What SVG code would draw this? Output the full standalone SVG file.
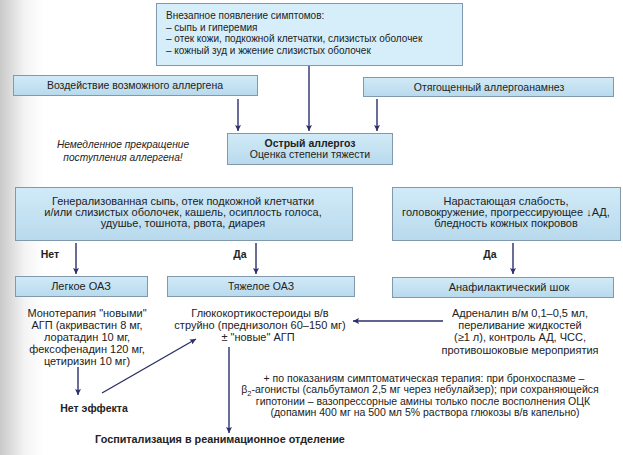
<svg xmlns="http://www.w3.org/2000/svg" width="623" height="455" viewBox="0 0 623 455">
<defs>
<linearGradient id="bg" x1="0" y1="0" x2="1" y2="0">
<stop offset="0" stop-color="#c9c9c9"/>
<stop offset="0.04" stop-color="#f4f4f4"/>
<stop offset="0.07" stop-color="#ffffff"/>
</linearGradient>
<linearGradient id="boxfill" x1="0" y1="0" x2="0" y2="1">
<stop offset="0" stop-color="#d1eaf7"/>
<stop offset="1" stop-color="#b8daed"/>
</linearGradient>
<marker id="ah2" viewBox="0 0 10 10" refX="10" refY="5" markerWidth="10" markerHeight="6" orient="auto" markerUnits="userSpaceOnUse">
<path d="M0,0 L10,5 L0,10 L2,5 Z" fill="#2b2f6b"/>
</marker>
</defs>
<style>
.box{fill:url(#boxfill);stroke:#8299ad;stroke-width:1}
.t{font-family:"Liberation Sans",Arial,sans-serif;font-size:10.5px;fill:#222}
.s10{font-size:10px}
.s11{font-size:11px}
.c{text-anchor:middle}
.b{font-weight:bold}
.i{font-style:italic;font-size:10.2px}
.con{stroke:#2b2f6b;stroke-width:1.4;fill:none}
.arr{marker-end:url(#ah2)}
</style>
<rect x="0" y="0" width="623" height="455" fill="url(#bg)"/>

<g id="n-top">
<rect class="box" x="156.5" y="3.5" width="306" height="62" style="fill:#d6eef9"/>
<text class="t s10" x="166" y="19">Внезапное появление симптомов:</text>
<text class="t s10" x="166" y="30.5">– сыпь и гиперемия</text>
<text class="t s10" x="166" y="42">– отек кожи, подкожной клетчатки, слизистых оболочек</text>
<text class="t s10" x="166" y="53.5">– кожный зуд и жжение слизистых оболочек</text>
</g>

<g id="n-allergen">
<rect class="box" x="13.5" y="75.5" width="244" height="20"/>
<text class="t c" x="135" y="89">Воздействие возможного аллергена</text>
</g>

<g id="n-anamnesis">
<rect class="box" x="363.5" y="77.5" width="250" height="19"/>
<text class="t c" x="489" y="90.5">Отягощенный аллергоанамнез</text>
</g>

<g id="n-stop">
<text class="t c i" x="123" y="147.5">Немедленное прекращение</text>
<text class="t c i" x="123" y="160.5">поступления аллергена!</text>
</g>

<g id="n-acute">
<rect class="box" x="227.5" y="133.5" width="165" height="31"/>
<text class="t c b" x="310" y="146.5">Острый аллергоз</text>
<text class="t c" x="310" y="158">Оценка степени тяжести</text>
</g>

<g id="n-general">
<rect class="box" x="15.5" y="187.5" width="337" height="53"/>
<text class="t c s11" x="183" y="204.5">Генерализованная сыпь, отек подкожной клетчатки</text>
<text class="t c s11" x="183" y="215.5">и/или слизистых оболочек, кашель, осиплость голоса,</text>
<text class="t c s11" x="183" y="226.5">удушье, тошнота, рвота, диарея</text>
</g>

<g id="n-weak">
<rect class="box" x="392.5" y="187.5" width="228" height="53"/>
<text class="t c s11" x="506" y="204.5">Нарастающая слабость,</text>
<text class="t c s11" x="506" y="215.5">головокружение, прогрессирующее ↓АД,</text>
<text class="t c s11" x="506" y="226.5">бледность кожных покровов</text>
</g>

<g id="n-mild">
<rect class="box" x="15.5" y="276.5" width="132" height="20"/>
<text class="t c s11" x="81" y="290">Легкое ОАЗ</text>
</g>

<g id="n-severe">
<rect class="box" x="167.5" y="276.5" width="187" height="20"/>
<text class="t c" x="261" y="290">Тяжелое ОАЗ</text>
</g>

<g id="n-shock">
<rect class="box" x="392.5" y="277.5" width="221" height="20"/>
<text class="t c s11" x="509" y="291">Анафилактический шок</text>
</g>

<g id="n-mono">
<text class="t c s11" x="87" y="317">Монотерапия "новыми"</text>
<text class="t c s11" x="87" y="329">АГП (акривастин 8 мг,</text>
<text class="t c s11" x="87" y="341">лоратадин 10 мг,</text>
<text class="t c s11" x="87" y="352.5">фексофенадин 120 мг,</text>
<text class="t c s11" x="87" y="364.5">цетиризин 10 мг)</text>
</g>

<g id="n-gcs">
<text class="t c s11" x="260" y="317">Глюкокортикостероиды в/в</text>
<text class="t c s11" x="260" y="329">струйно (преднизолон 60–150 мг)</text>
<text class="t c s11" x="258" y="341">± "новые" АГП</text>
</g>

<g id="n-adrenalin">
<text class="t c s11" x="520" y="317">Адреналин в/м 0,1–0,5 мл,</text>
<text class="t c s11" x="520" y="329">переливание жидкостей</text>
<text class="t c s11" x="520" y="341">(≥1 л), контроль АД, ЧСС,</text>
<text class="t c s11" x="520" y="353.5">противошоковые мероприятия</text>
</g>

<g id="n-sympt">
<text class="t c" x="424" y="381.5">+ по показаниям симптоматическая терапия: при бронхоспазме –</text>
<text class="t c" x="420" y="393">β<tspan font-size="7.5" dy="2.5">2</tspan><tspan dy="-2.5">-агонисты (сальбутамол 2,5 мг через небулайзер); при сохраняющейся</tspan></text>
<text class="t c" x="423" y="404.5">гипотонии – вазопрессорные амины только после восполнения ОЦК</text>
<text class="t c" x="425" y="416">(допамин 400 мг на 500 мл 5% раствора глюкозы в/в капельно)</text>
</g>

<g id="n-noeffect">
<text class="t c b" x="94" y="412">Нет эффекта</text>
</g>

<g id="n-hosp">
<text class="t c b" x="220" y="443" style="font-size:10.8px">Госпитализация в реанимационное отделение</text>
</g>

<g id="labels">
<text class="t c b" x="50" y="258">Нет</text>
<text class="t c b" x="240" y="258">Да</text>
<text class="t c b" x="490" y="258">Да</text>
</g>

<g id="connectors">
<line class="con arr" x1="309" y1="66" x2="309" y2="131"/>
<line class="con arr" x1="238" y1="99" x2="238" y2="131"/>
<line class="con arr" x1="377" y1="99" x2="377" y2="131"/>
<line class="con arr" x1="76" y1="243" x2="76" y2="274"/>
<line class="con arr" x1="256" y1="243" x2="256" y2="274"/>
<line class="con arr" x1="513" y1="243" x2="513" y2="274"/>
<line class="con arr" x1="443" y1="321" x2="353" y2="321"/>
<line class="con arr" x1="78" y1="367" x2="78" y2="395"/>
<line class="con arr" x1="102" y1="393" x2="196" y2="339"/>
<line class="con arr" x1="229" y1="347" x2="229" y2="433"/>
</g>
</svg>
